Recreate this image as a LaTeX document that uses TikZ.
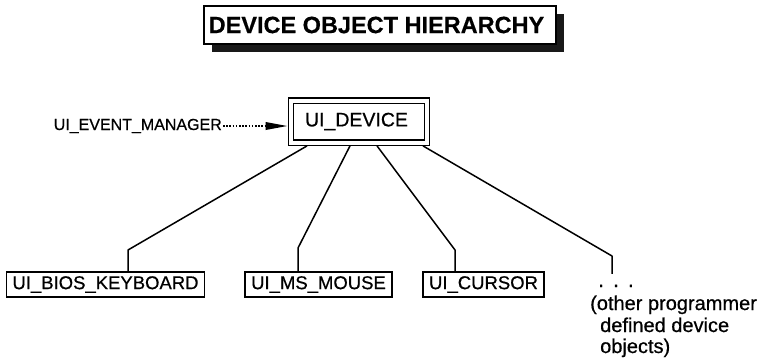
\documentclass[tikz,border=0pt]{standalone}
\usepackage{fontspec}
\setmainfont{Liberation Sans}[BoldFeatures={FakeBold=0.5}]
\newfontfamily\lblfont{Liberation Sans}[FakeBold=0.6]
\usetikzlibrary{arrows.meta,shadows}
\begin{document}
\begin{tikzpicture}[x=1pt,y=-1pt,
  classbox/.style={draw, line width=1.5pt, inner xsep=6pt, inner ysep=0pt,
    minimum height=25pt, font=\lblfont\fontsize{18.5}{22}\selectfont},
  link/.style={line width=1.5pt, line join=round},
  note/.style={anchor=base west, inner sep=0pt, font=\lblfont\fontsize{20}{24}\selectfont},
]
\useasboundingbox (0,0) rectangle (762,362);

% heading with its drop shadow
\node[draw, line width=2pt, fill=white, minimum width=352pt, minimum height=38pt,
  inner sep=0pt, font=\bfseries\fontsize{23.5}{28}\selectfont,
  drop shadow={shadow xshift=8pt, shadow yshift=-8pt, opacity=1, fill=black!90}]
  (title) at (380,25) {DEVICE OBJECT HIERARCHY\hspace*{7pt}};

% base class
\node[draw, double, double distance=4pt, line width=1.4pt, minimum width=136pt,
  minimum height=42pt, inner sep=0pt, outer sep=3.4pt,
  font=\lblfont\fontsize{19.5}{23}\selectfont]
  (dev) at (359,121.5) {UI\_DEVICE\hspace*{5pt}};

% event manager feeding the device
\node[anchor=base east, inner sep=0pt, font=\lblfont\fontsize{16}{19}\selectfont]
  (mgr) at (222,130) {UI\_EVENT\_MANAGER};
\draw[line width=1.9pt, dash pattern=on 1.6pt off 1.6pt,
  -{Triangle[length=22pt,width=7.5pt]}]
  ([xshift=1pt]mgr.east) -- (mgr.east -| dev.west);

% derived classes
\node[classbox] (bios)   at (105.5,284.5) {UI\_BIOS\_KEYBOARD};
\node[classbox] (mouse)  at (318.5,284.5) {UI\_MS\_MOUSE};
\node[classbox] (cursor) at (483.5,284.5) {UI\_CURSOR};

\node[anchor=base, inner sep=0pt, text height=13pt, font=\lblfont\fontsize{21}{24}\selectfont]
  (more) at (616,287) {.\hspace{9pt}.\hspace{9pt}.};

\node[note] (note1) at (590,310) {(other programmer};
\node[note] (note2) at (600,332) {defined device};
\node[note] (note3) at (600,353) {objects)};

% inheritance links
\coordinate (k1) at (128,250);
\coordinate (k2) at (298,248);
\coordinate (k3) at (455,250);
\coordinate (k4) at (612,256);

\draw[link] ([xshift=-52pt]dev.south) -- (k1) -- (k1 |- bios.north);
\draw[link] ([xshift=-9pt]dev.south)  -- (k2) -- (k2 |- mouse.north);
\draw[link] ([xshift=18pt]dev.south)  -- (k3) -- (k3 |- cursor.north);
\draw[link] ([xshift=64pt]dev.south)  -- (k4) -- (k4 |- more.north);
\end{tikzpicture}
\end{document}
